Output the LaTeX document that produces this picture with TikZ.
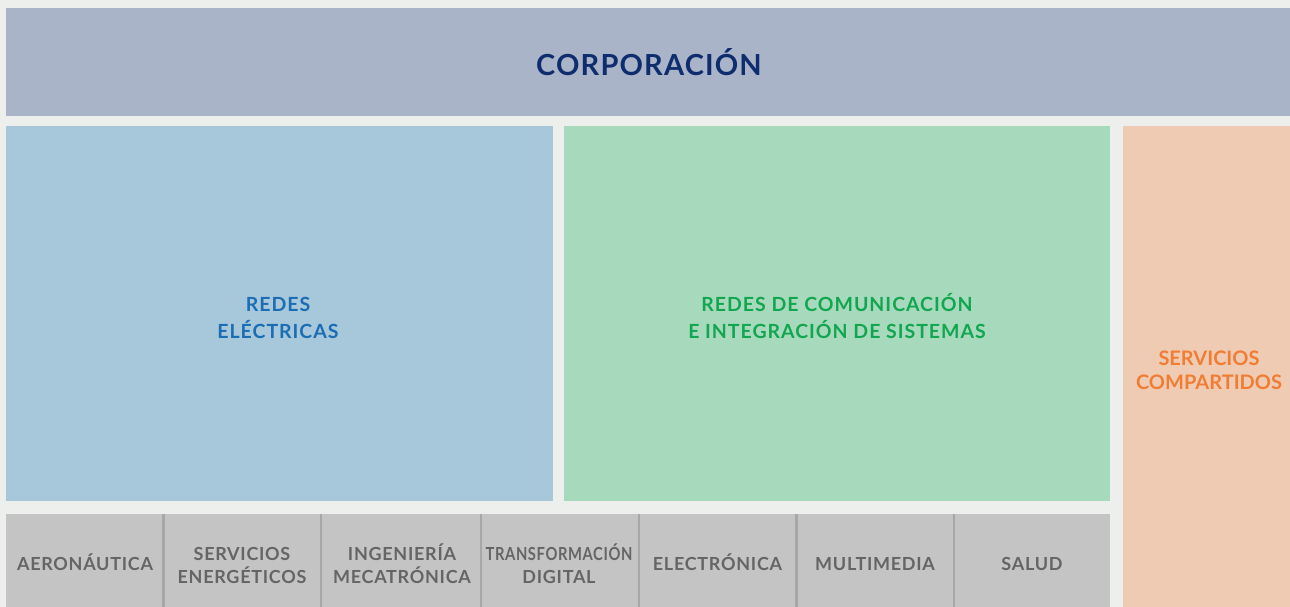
\documentclass[tikz,border=0pt]{standalone}
\usepackage{fontspec}
\setmainfont{Lato}
\newfontfamily\titlefont{Lato}[LetterSpace=4]
\newfontfamily\unitfont{Lato}[LetterSpace=5]
\newfontfamily\areafont{Lato}[LetterSpace=4]
\usetikzlibrary{positioning}
\definecolor{backgr}{HTML}{EDEFEC}
\definecolor{corpfill}{HTML}{A9B4C8}
\definecolor{corptext}{HTML}{0F2D6E}
\definecolor{elecfill}{HTML}{A7C7DA}
\definecolor{electext}{HTML}{1B6DB4}
\definecolor{comfill}{HTML}{A7DABC}
\definecolor{comtext}{HTML}{13A651}
\definecolor{servfill}{HTML}{EFCBB4}
\definecolor{servtext}{HTML}{F07D34}
\definecolor{areafill}{HTML}{C4C4C4}
\definecolor{areatext}{HTML}{656565}
\definecolor{arealine}{HTML}{A7A7A7}
\tikzset{
    title/.style={font=\titlefont\bfseries\fontsize{29}{34}\selectfont, text=corptext, anchor=base, inner sep=0pt},
    unit/.style={font=\unitfont\bfseries\fontsize{19.5}{27}\selectfont, align=center, anchor=base, inner sep=0pt},
    shared/.style={font=\bfseries\fontsize{20}{24}\selectfont, text=servtext, align=center, anchor=base, inner sep=0pt},
    area/.style={font=\areafont\bfseries\fontsize{18}{23}\selectfont, text=areatext, align=center, anchor=base, inner sep=0pt},
    divider/.style={draw=arealine, line width=2.5pt},
}

\begin{document}
\begin{tikzpicture}[x=1pt, y=-1pt]
	\fill[backgr] (0,0) rectangle (1290,607);
	\useasboundingbox (0,0) rectangle (1290,607);
	% corporation bar
	\fill[corpfill] (6,8) rectangle (1290,116);
	\node[title] (corp) at (649,76) {CORPORACIÓN};
	% business units (base = last line)
	\fill[elecfill] (6,126) rectangle (553,501);
	\node[unit, text=electext] (elec) at (278,338) {REDES\\ELÉCTRICAS};
	\fill[comfill] (564,126) rectangle (1110,501);
	\node[unit, text=comtext] (com) at (837,338) {REDES DE COMUNICACIÓN\\E INTEGRACIÓN DE SISTEMAS};
	\fill[servfill] (1123,126) rectangle (1290,607);
	\node[shared] (serv) at (1209,389) {SERVICIOS\\COMPARTIDOS};
	% other areas
	\fill[areafill] (6,514) rectangle (1110,607);
	\coordinate (d1t) at (163.5,514); \coordinate (d1b) at (163.5,607);
	\coordinate (d2t) at (321,514);   \coordinate (d2b) at (321,607);
	\coordinate (d3t) at (481,514);   \coordinate (d3b) at (481,607);
	\coordinate (d4t) at (639,514);   \coordinate (d4b) at (639,607);
	\coordinate (d5t) at (796.5,514); \coordinate (d5b) at (796.5,607);
	\coordinate (d6t) at (954,514);   \coordinate (d6b) at (954,607);
	\draw[divider] (d1t)--(d1b);
	\draw[divider] (d2t)--(d2b);
	\draw[divider] (d3t)--(d3b);
	\draw[divider] (d4t)--(d4b);
	\draw[divider] (d5t)--(d5b);
	\draw[divider] (d6t)--(d6b);
	\node[area] (aero) at (85,570) {AERONÁUTICA};
	\node[area] (ener) at (242,583) {SERVICIOS\\ENERGÉTICOS};
	\node[area] (meca) at (402,583) {INGENIERÍA\\MECATRÓNICA};
	\node[area] (digi) at (559,583) {\scalebox{0.82}[1]{TRANSFORMACIÓN}\\DIGITAL};
	\node[area] (elca) at (717.5,570) {ELECTRÓNICA};
	\node[area] (mult) at (875,570) {MULTIMEDIA};
	\node[area] (salu) at (1032,570) {SALUD};
\end{tikzpicture}
\end{document}
